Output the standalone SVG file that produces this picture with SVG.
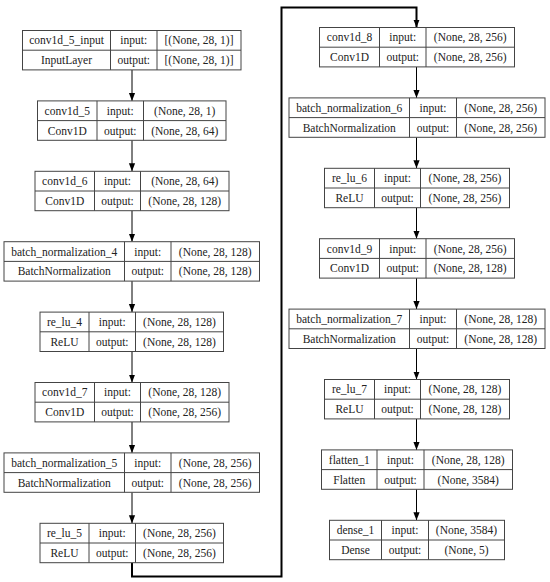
<svg xmlns="http://www.w3.org/2000/svg" width="550" height="582" viewBox="0 0 550 582">
<style>
.b{fill:#fff;stroke:#444;stroke-width:1}
.d{stroke:#444;stroke-width:1}
text{font-family:"Liberation Serif","Times New Roman",serif;font-size:11.5px;fill:#222;text-anchor:middle}
.e{fill:none;stroke:#000;stroke-width:1}
.l{fill:none;stroke:#000;stroke-width:2}
</style>
<defs>
<marker id="ah" markerUnits="userSpaceOnUse" markerWidth="8" markerHeight="10" refX="9" refY="3.5" orient="auto" viewBox="0 0 9 7"><path d="M0,0 L9,3.5 L0,7 Z" fill="#000"/></marker>
</defs>
<rect width="550" height="582" fill="#fff"/>
<g id="connectors">
<line class="e" x1="132" y1="70" x2="132" y2="100.9" marker-end="url(#ah)"/>
<line class="e" x1="132" y1="140.3" x2="132" y2="171.3" marker-end="url(#ah)"/>
<line class="e" x1="132" y1="210.7" x2="132" y2="241.7" marker-end="url(#ah)"/>
<line class="e" x1="132" y1="281.1" x2="132" y2="312.1" marker-end="url(#ah)"/>
<line class="e" x1="132" y1="351.5" x2="132" y2="382.5" marker-end="url(#ah)"/>
<line class="e" x1="132" y1="421.9" x2="132" y2="452.9" marker-end="url(#ah)"/>
<line class="e" x1="132" y1="492.3" x2="132" y2="523.3" marker-end="url(#ah)"/>
<path class="l" d="M132,562.7 V576.5 H281.5 V7.5 H416.5 V27.5" marker-end="url(#ah)"/>
<line class="e" x1="416.5" y1="66.9" x2="416.5" y2="97.9" marker-end="url(#ah)"/>
<line class="e" x1="416.5" y1="137.3" x2="416.5" y2="168.3" marker-end="url(#ah)"/>
<line class="e" x1="416.5" y1="207.7" x2="416.5" y2="238.7" marker-end="url(#ah)"/>
<line class="e" x1="416.5" y1="278.1" x2="416.5" y2="309.1" marker-end="url(#ah)"/>
<line class="e" x1="416.5" y1="348.5" x2="416.5" y2="379.5" marker-end="url(#ah)"/>
<line class="e" x1="416.5" y1="418.9" x2="416.5" y2="449.9" marker-end="url(#ah)"/>
<line class="e" x1="416.5" y1="489.3" x2="416.5" y2="520.3" marker-end="url(#ah)"/>
</g>
<g id="conv1d_5_input">
<rect class="b" x="22.5" y="30.5" width="218.5" height="39.4"/>
<path class="d" d="M22.5,50.2H241M110.5,30.5V69.9M157,30.5V69.9"/>
<text x="66.5" y="44.4">conv1d_5_input</text><text x="66.5" y="64.1">InputLayer</text>
<text x="133.75" y="44.4">input:</text><text x="133.75" y="64.1">output:</text>
<text x="199" y="44.4">[(None, 28, 1)]</text><text x="199" y="64.1">[(None, 28, 1)]</text>
</g>
<g id="conv1d_5">
<rect class="b" x="37.5" y="100.9" width="188.5" height="39.4"/>
<path class="d" d="M37.5,120.6H226M97,100.9V140.3M143.5,100.9V140.3"/>
<text x="67.25" y="114.8">conv1d_5</text><text x="67.25" y="134.5">Conv1D</text>
<text x="120.25" y="114.8">input:</text><text x="120.25" y="134.5">output:</text>
<text x="184.75" y="114.8">(None, 28, 1)</text><text x="184.75" y="134.5">(None, 28, 64)</text>
</g>
<g id="conv1d_6">
<rect class="b" x="35" y="171.3" width="194" height="39.4"/>
<path class="d" d="M35,191H229M94.5,171.3V210.7M140.5,171.3V210.7"/>
<text x="64.75" y="185.2">conv1d_6</text><text x="64.75" y="204.9">Conv1D</text>
<text x="117.5" y="185.2">input:</text><text x="117.5" y="204.9">output:</text>
<text x="184.75" y="185.2">(None, 28, 64)</text><text x="184.75" y="204.9">(None, 28, 128)</text>
</g>
<g id="batch_normalization_4">
<rect class="b" x="4" y="241.7" width="255.5" height="39.4"/>
<path class="d" d="M4,261.4H259.5M124.5,241.7V281.1M171,241.7V281.1"/>
<text x="64.25" y="255.6">batch_normalization_4</text><text x="64.25" y="275.3">BatchNormalization</text>
<text x="147.75" y="255.6">input:</text><text x="147.75" y="275.3">output:</text>
<text x="215.25" y="255.6">(None, 28, 128)</text><text x="215.25" y="275.3">(None, 28, 128)</text>
</g>
<g id="re_lu_4">
<rect class="b" x="40" y="312.1" width="183.5" height="39.4"/>
<path class="d" d="M40,331.8H223.5M89,312.1V351.5M135.5,312.1V351.5"/>
<text x="64.5" y="326">re_lu_4</text><text x="64.5" y="345.7">ReLU</text>
<text x="112.25" y="326">input:</text><text x="112.25" y="345.7">output:</text>
<text x="179.5" y="326">(None, 28, 128)</text><text x="179.5" y="345.7">(None, 28, 128)</text>
</g>
<g id="conv1d_7">
<rect class="b" x="35" y="382.5" width="194" height="39.4"/>
<path class="d" d="M35,402.2H229M94.5,382.5V421.9M140.5,382.5V421.9"/>
<text x="64.75" y="396.4">conv1d_7</text><text x="64.75" y="416.1">Conv1D</text>
<text x="117.5" y="396.4">input:</text><text x="117.5" y="416.1">output:</text>
<text x="184.75" y="396.4">(None, 28, 128)</text><text x="184.75" y="416.1">(None, 28, 256)</text>
</g>
<g id="batch_normalization_5">
<rect class="b" x="4" y="452.9" width="255.5" height="39.4"/>
<path class="d" d="M4,472.6H259.5M124.5,452.9V492.3M171,452.9V492.3"/>
<text x="64.25" y="466.8">batch_normalization_5</text><text x="64.25" y="486.5">BatchNormalization</text>
<text x="147.75" y="466.8">input:</text><text x="147.75" y="486.5">output:</text>
<text x="215.25" y="466.8">(None, 28, 256)</text><text x="215.25" y="486.5">(None, 28, 256)</text>
</g>
<g id="re_lu_5">
<rect class="b" x="40" y="523.3" width="183.5" height="39.4"/>
<path class="d" d="M40,543H223.5M89,523.3V562.7M135.5,523.3V562.7"/>
<text x="64.5" y="537.2">re_lu_5</text><text x="64.5" y="556.9">ReLU</text>
<text x="112.25" y="537.2">input:</text><text x="112.25" y="556.9">output:</text>
<text x="179.5" y="537.2">(None, 28, 256)</text><text x="179.5" y="556.9">(None, 28, 256)</text>
</g>
<g id="conv1d_8">
<rect class="b" x="319.5" y="27.5" width="195" height="39.4"/>
<path class="d" d="M319.5,47.2H514.5M379.5,27.5V66.9M426,27.5V66.9"/>
<text x="349.5" y="41.4">conv1d_8</text><text x="349.5" y="61.1">Conv1D</text>
<text x="402.75" y="41.4">input:</text><text x="402.75" y="61.1">output:</text>
<text x="470.25" y="41.4">(None, 28, 256)</text><text x="470.25" y="61.1">(None, 28, 256)</text>
</g>
<g id="batch_normalization_6">
<rect class="b" x="289" y="97.9" width="256" height="39.4"/>
<path class="d" d="M289,117.6H545M409.5,97.9V137.3M456.5,97.9V137.3"/>
<text x="349.25" y="111.8">batch_normalization_6</text><text x="349.25" y="131.5">BatchNormalization</text>
<text x="433" y="111.8">input:</text><text x="433" y="131.5">output:</text>
<text x="500.75" y="111.8">(None, 28, 256)</text><text x="500.75" y="131.5">(None, 28, 256)</text>
</g>
<g id="re_lu_6">
<rect class="b" x="324.5" y="168.3" width="185" height="39.4"/>
<path class="d" d="M324.5,188H509.5M374.5,168.3V207.7M420.5,168.3V207.7"/>
<text x="349.5" y="182.2">re_lu_6</text><text x="349.5" y="201.9">ReLU</text>
<text x="397.5" y="182.2">input:</text><text x="397.5" y="201.9">output:</text>
<text x="465" y="182.2">(None, 28, 256)</text><text x="465" y="201.9">(None, 28, 256)</text>
</g>
<g id="conv1d_9">
<rect class="b" x="319.5" y="238.7" width="195" height="39.4"/>
<path class="d" d="M319.5,258.4H514.5M379.5,238.7V278.1M426,238.7V278.1"/>
<text x="349.5" y="252.6">conv1d_9</text><text x="349.5" y="272.3">Conv1D</text>
<text x="402.75" y="252.6">input:</text><text x="402.75" y="272.3">output:</text>
<text x="470.25" y="252.6">(None, 28, 256)</text><text x="470.25" y="272.3">(None, 28, 128)</text>
</g>
<g id="batch_normalization_7">
<rect class="b" x="289" y="309.1" width="256" height="39.4"/>
<path class="d" d="M289,328.8H545M409.5,309.1V348.5M456.5,309.1V348.5"/>
<text x="349.25" y="323">batch_normalization_7</text><text x="349.25" y="342.7">BatchNormalization</text>
<text x="433" y="323">input:</text><text x="433" y="342.7">output:</text>
<text x="500.75" y="323">(None, 28, 128)</text><text x="500.75" y="342.7">(None, 28, 128)</text>
</g>
<g id="re_lu_7">
<rect class="b" x="324.5" y="379.5" width="185" height="39.4"/>
<path class="d" d="M324.5,399.2H509.5M374.5,379.5V418.9M420.5,379.5V418.9"/>
<text x="349.5" y="393.4">re_lu_7</text><text x="349.5" y="413.1">ReLU</text>
<text x="397.5" y="393.4">input:</text><text x="397.5" y="413.1">output:</text>
<text x="465" y="393.4">(None, 28, 128)</text><text x="465" y="413.1">(None, 28, 128)</text>
</g>
<g id="flatten_1">
<rect class="b" x="321.5" y="449.9" width="191" height="39.4"/>
<path class="d" d="M321.5,469.6H512.5M377,449.9V489.3M424,449.9V489.3"/>
<text x="349.25" y="463.8">flatten_1</text><text x="349.25" y="483.5">Flatten</text>
<text x="400.5" y="463.8">input:</text><text x="400.5" y="483.5">output:</text>
<text x="468.25" y="463.8">(None, 28, 128)</text><text x="468.25" y="483.5">(None, 3584)</text>
</g>
<g id="dense_1">
<rect class="b" x="329.5" y="520.3" width="175" height="39.4"/>
<path class="d" d="M329.5,540H504.5M381.5,520.3V559.7M428.5,520.3V559.7"/>
<text x="355.5" y="534.2">dense_1</text><text x="355.5" y="553.9">Dense</text>
<text x="405" y="534.2">input:</text><text x="405" y="553.9">output:</text>
<text x="466.5" y="534.2">(None, 3584)</text><text x="466.5" y="553.9">(None, 5)</text>
</g>
</svg>
